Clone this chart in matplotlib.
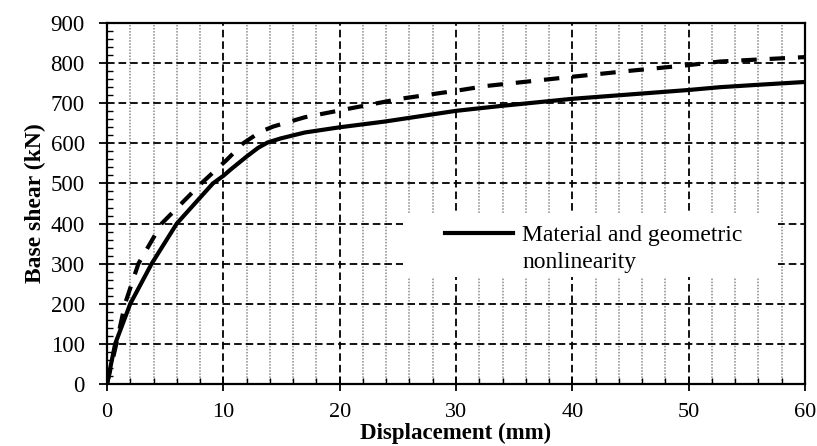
import matplotlib
matplotlib.use("Agg")
import matplotlib.pyplot as plt
from matplotlib.ticker import MultipleLocator
from matplotlib.patches import Rectangle
from matplotlib.lines import Line2D

# ---- data ----
mg_disp = [0, 0.7, 2.0, 3.84, 6.0, 9.1, 10.0, 10.6, 12.0, 13.0, 13.8, 14.9, 17.0, 20.0,
           23.8, 30.0, 33.8, 40.0, 45.0, 50.0, 52.7, 56.0, 60.0]
mg_shear = [0, 100, 200, 300, 400, 500, 519, 534, 567, 589, 602, 612, 627, 640,
            654, 681, 693, 711, 722, 733, 740, 746, 753]

m_disp = [0, 0.8, 1.55, 2.7, 4.7, 8.1, 10.3, 11.7, 13.2, 14.3, 17.0, 20.0,
          25.2, 30.0, 32.6, 40.0, 45.0, 50.0, 52.7, 56.0, 60.0]
m_shear = [0, 100, 200, 300, 400, 500, 559, 600, 629, 642, 665, 682,
           711, 731, 743, 766, 781, 795, 804, 809, 815]

legend_label = "Material and geometric\nnonlinearity"
x_label = "Displacement (mm)"
y_label = "Base shear (kN)"
x_ticks = [0, 10, 20, 30, 40, 50, 60]
y_ticks = [0, 100, 200, 300, 400, 500, 600, 700, 800, 900]

plt.rcParams['font.family'] = ['Liberation Serif', 'DejaVu Serif']

fig = plt.figure(figsize=(8.17, 4.46), dpi=100)
ax = fig.add_axes([107/817, 1-384/446, (805-107)/817, (384-23)/446])

ax.set_xlim(0, 60)
ax.set_ylim(0, 900)
ax.set_xticks(x_ticks)
ax.set_yticks(y_ticks)
ax.xaxis.set_minor_locator(MultipleLocator(2))
ax.yaxis.set_minor_locator(MultipleLocator(20))

ax.set_axisbelow(True)
ax.grid(which='major', axis='both', color='black', lw=1.3, ls=(0, (4.2, 2.2)))
ax.xaxis.grid(which='minor', color='#8a8a8a', lw=1.1, ls=(0, (1, 1)))

ax.plot(m_disp, m_shear, color='black', lw=3.0, ls=(0, (3.7, 3.1)), zorder=3,
        label='_nolegend_')
ax.plot(mg_disp, mg_shear, color='black', lw=3.0, zorder=3, label=legend_label)

# legend area (white box, no frame)
ax.add_patch(Rectangle((0.424, 0.296), 0.537, 0.178, transform=ax.transAxes,
                       facecolor='white', edgecolor='none', zorder=1))
ax.add_line(Line2D([0.484, 0.582], [0.417, 0.417], transform=ax.transAxes,
                   color='black', lw=3.0, zorder=4))
ax.text(0.595, 0.321, legend_label, transform=ax.transAxes, fontsize=17,
        va='baseline', ha='left', linespacing=1.38, zorder=4)

for s in ax.spines.values():
    s.set_linewidth(1.6)

ax.tick_params(axis='x', which='major', direction='inout', length=10, width=1.3,
               labelsize=16, pad=9)
ax.tick_params(axis='y', which='major', direction='out', length=6, width=1.3,
               labelsize=16.5, pad=10)
ax.tick_params(axis='both', which='minor', direction='in', length=4, width=1.0)
ax.tick_params(axis='x', which='minor', length=4)

ax.set_xlabel(x_label, fontsize=16.5, fontweight='bold', labelpad=0)
ax.set_ylabel(y_label, fontsize=17, fontweight='bold', labelpad=3)

fig.savefig("out.png", dpi=100)
